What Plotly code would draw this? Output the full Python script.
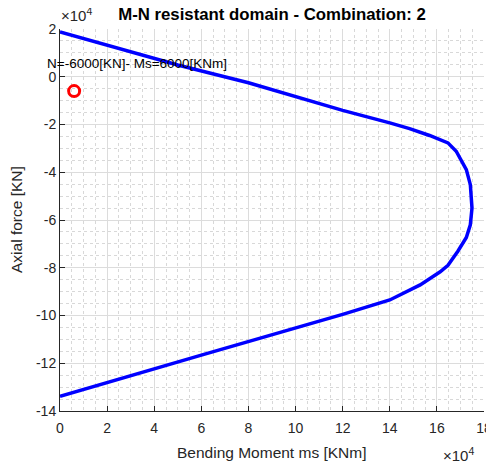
import plotly.graph_objects as go

# Resistant domain boundary (values in KNm / KN)
moment = [0, 50000, 80000, 100000, 120000, 140000, 148400, 156900, 164700,
          168200, 172500, 174200, 174900, 174200, 172500,
          168900, 164700, 161400, 152900, 140000, 120000, 60000, 0]
axial = [18800, 4900, -2500, -8300, -14100, -19300, -21700, -24600, -27700,
         -31200, -38900, -45200, -55000, -62000, -67300,
         -73100, -79000, -81700, -87200, -93500, -99500, -116600, -133800]

# Acting load
ms_point = [6000]
n_point = [-6000]
label_text = "N=-6000[KN]- Ms=6000[KNm]"

x_ticks = list(range(0, 180001, 20000))
x_ticktext = [str(v // 10000) for v in x_ticks]
y_ticks = list(range(-140000, 20001, 20000))
y_ticktext = [str(v // 10000) for v in y_ticks]

font = "Liberation Sans, Arial, Helvetica, sans-serif"

fig = go.Figure()
fig.add_trace(go.Scatter(x=moment, y=axial, mode="lines",
                         line=dict(color="#0000ff", width=3.5),
                         showlegend=False, hoverinfo="skip"))
fig.add_trace(go.Scatter(x=ms_point, y=n_point, mode="markers",
                         marker=dict(symbol="circle-open", color="#ff0000", size=11,
                                     line=dict(width=3, color="#ff0000")),
                         showlegend=False, cliponaxis=False))

axis_common = dict(
    showgrid=True, gridcolor="#dcdcdc", gridwidth=1,
    zeroline=False, showline=True, linecolor="#262626", linewidth=1,
    ticks="inside", ticklen=5, tickcolor="#262626",
    tickfont=dict(family=font, size=14, color="#262626"),
    mirror=False, automargin=False,
)

# page body has an 8px margin, so the figure is sized/offset to compensate
fig.update_layout(
    width=486, height=456,
    margin=dict(l=52, r=10, t=21, b=53),
    paper_bgcolor="white", plot_bgcolor="white",
    font=dict(family=font, color="#262626"),
    title=dict(text="<b>M-N resistant domain - Combination: 2</b>",
               x=0.5, xanchor="center", xref="paper",
               y=1 - 6 / 456, yanchor="middle", yref="container",
               font=dict(family=font, size=16.8, color="#000000")),
    xaxis=dict(range=[0, 180000], tickvals=x_ticks, ticktext=x_ticktext,
               ticklabelstandoff=4,
               minor=dict(dtick=5000, tick0=0, showgrid=True, gridcolor="#d8d8d8",
                          griddash="dot", ticks=""),
               **axis_common),
    yaxis=dict(range=[-140000, 20000], tickvals=y_ticks, ticktext=y_ticktext,
               minor=dict(dtick=5000, tick0=0, showgrid=True, gridcolor="#d8d8d8",
                          griddash="dot", ticks=""),
               **axis_common),
    annotations=[
        dict(text="Bending Moment ms [KNm]", x=0.5, y=0, xref="paper", yref="paper",
             xanchor="center", yanchor="middle", yshift=-41, showarrow=False,
             font=dict(family=font, size=15.5, color="#262626")),
        dict(text="Axial force [KN]", x=0, y=0.5, xref="paper", yref="paper",
             xanchor="center", yanchor="middle", xshift=-44, textangle=-90,
             showarrow=False,
             font=dict(family=font, size=15.5, color="#262626")),
        dict(text=label_text, x=0, y=1, xref="paper", yref="paper",
             xanchor="left", yanchor="middle", xshift=-15, yshift=-34, showarrow=False,
             font=dict(family=font, size=13.5, color="#000000")),
        dict(text="×10<sup>4</sup>", x=0, y=1, xref="paper", yref="paper",
             xanchor="left", yanchor="middle", showarrow=False, yshift=15, xshift=-1,
             font=dict(family=font, size=15, color="#262626")),
        dict(text="×10<sup>4</sup>", x=1, y=0, xref="paper", yref="paper",
             xanchor="right", yanchor="middle", showarrow=False, yshift=-43, xshift=-8,
             font=dict(family=font, size=15, color="#262626")),
    ],
)

fig.write_html("out.html")
